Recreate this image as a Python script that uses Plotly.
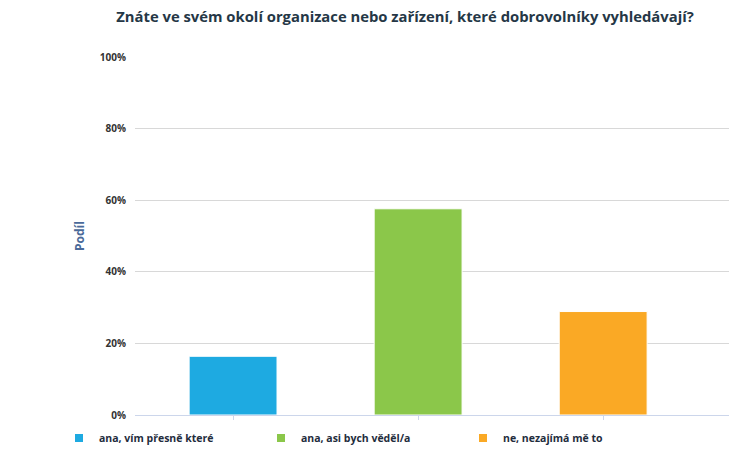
import plotly.graph_objects as go

categories = ["ana, vím přesně které", "ana, asi bych věděl/a", "ne, nezajímá mě to"]
values = [16.4, 57.6, 28.9]
colors = ["#1eaae1", "#8bc74a", "#faa925"]
y_ticks = [0, 20, 40, 60, 80, 100]
y_tick_labels = ["0%", "20%", "40%", "60%", "80%", "100%"]

FONT = "Open Sans"
# left edge of each legend entry, in px
legend_left = [59, 261, 463]

fig = go.Figure()

for i, (cat, val, col) in enumerate(zip(categories, values, colors)):
    lg = "legend" if i == 0 else f"legend{i + 1}"
    fig.add_trace(go.Bar(
        x=[cat],
        y=[val],
        name=cat,
        marker=dict(color=col, line=dict(color="white", width=1)),
        width=0.475,
        offsetgroup="a",
        showlegend=False,
    ))
    # legend-only marker: small square like the original
    fig.add_trace(go.Scatter(
        x=[None],
        y=[None],
        mode="markers",
        name=cat,
        marker=dict(color=col, size=8, symbol="square"),
        legend=lg,
    ))

legend_style = dict(
    orientation="h",
    xref="container",
    xanchor="left",
    yref="container",
    y=1 - 438 / 454,
    yanchor="middle",
    font=dict(family=FONT, size=10.5, color="#1f2d3d", weight="bold"),
    itemclick=False,
    bgcolor="rgba(0,0,0,0)",
)

fig.update_layout(
    width=729,
    height=454,
    margin=dict(l=135, r=0, t=57, b=39, autoexpand=False),
    plot_bgcolor="white",
    paper_bgcolor="white",
    bargap=0.525,
    title=dict(
        text="<b>Znáte ve svém okolí organizace nebo zařízení, které dobrovolníky vyhledávají?</b>",
        x=405 / 729,
        xanchor="center",
        xref="container",
        y=1 - 17 / 454,
        yanchor="middle",
        yref="container",
        font=dict(family=FONT, size=14.8, color="#253746"),
    ),
    legend=dict(legend_style, x=legend_left[0] / 729),
    legend2=dict(legend_style, x=legend_left[1] / 729),
    legend3=dict(legend_style, x=legend_left[2] / 729),
    xaxis=dict(
        range=[-0.53, 2.68],
        showticklabels=False,
        ticks="outside",
        ticklen=4,
        tickcolor="#ccd6eb",
        showline=True,
        linecolor="#ccd6eb",
        linewidth=1,
        showgrid=False,
        fixedrange=True,
    ),
    yaxis=dict(
        range=[0, 100],
        tickvals=y_ticks,
        ticktext=y_tick_labels,
        tickfont=dict(family=FONT, size=10, color="#333333", weight="bold"),
        gridcolor="#d8d8d8",
        gridwidth=1,
        zeroline=False,
        ticklabelstandoff=8,
        title=dict(
            text="<b>Podíl</b>",
            font=dict(family=FONT, size=12, color="#4a6a99"),
            standoff=12,
        ),
        fixedrange=True,
    ),
)

fig.write_html(
    "out.html",
    config={"displayModeBar": False},
    post_script="document.body.style.margin='0';document.body.style.overflow='hidden';",
)
